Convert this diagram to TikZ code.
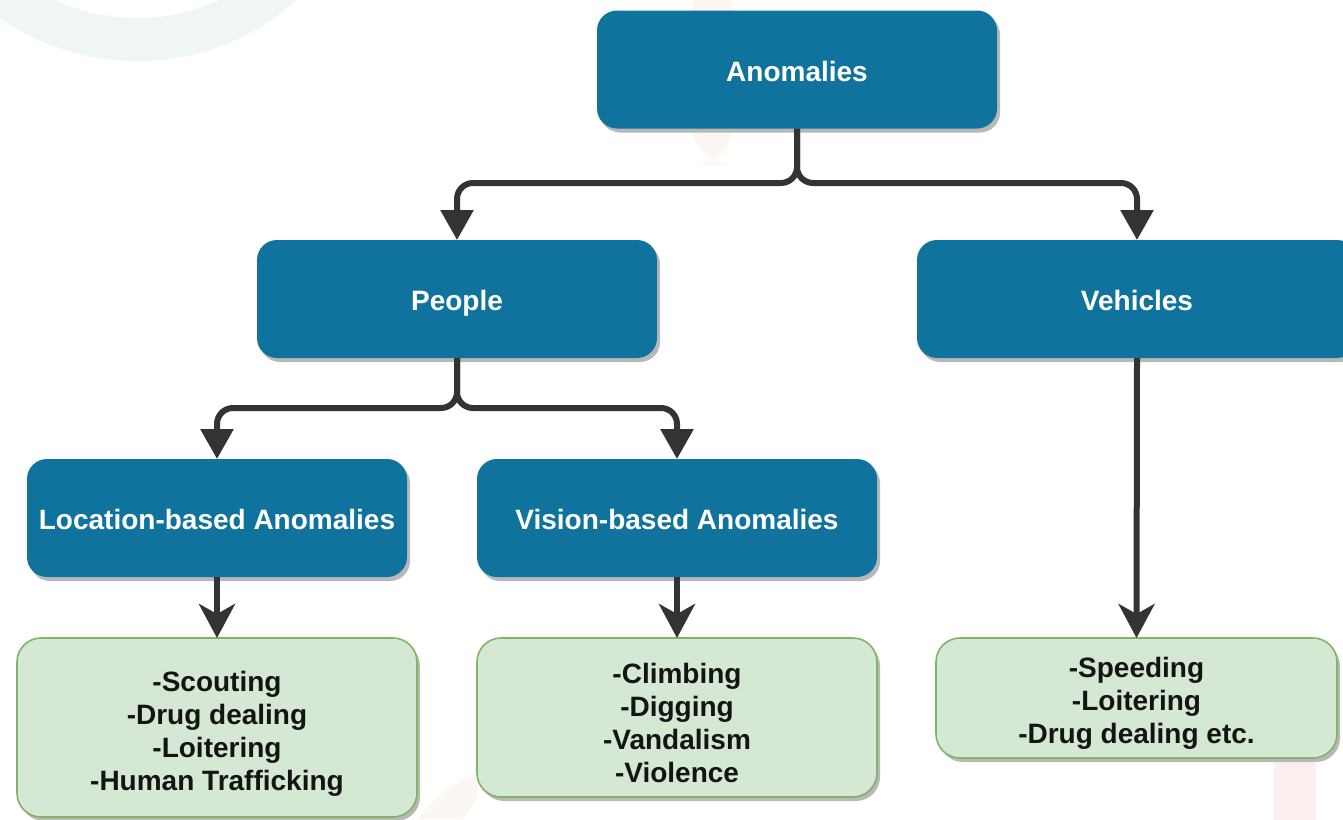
\documentclass[tikz,border=0pt]{standalone}
\usepackage{fontspec}
\setmainfont{Liberation Sans}
\usetikzlibrary{arrows.meta,shadows}

\definecolor{boxblue}{HTML}{10739E}
\definecolor{leafgreen}{HTML}{D5E8D4}
\definecolor{leafedge}{HTML}{82B366}
\definecolor{wire}{HTML}{333333}
\definecolor{markgreen}{HTML}{F0F7F2}
\definecolor{markpeach}{HTML}{FDF7F3}
\definecolor{markpink}{HTML}{FCEFEF}

\tikzset{
  catbox/.style={draw=none, fill=boxblue, rounded corners=10pt, text=white,
    font=\fontsize{14}{16.5}\selectfont\bfseries, align=center,
    inner sep=0pt, outer sep=0pt, minimum height=59pt,
    text height=11.5pt, text depth=0pt,
    drop shadow={shadow xshift=1.5pt, shadow yshift=-2pt, fill=black!28, opacity=1}},
  leafbox/.style={draw=leafedge, line width=0.8pt, fill=leafgreen, rounded corners=12pt,
    text=black!92, font=\fontsize{14}{16.5}\selectfont\bfseries, align=center,
    inner sep=0pt, outer sep=0pt, minimum width=200pt, text depth=0pt,
    drop shadow={shadow xshift=1.5pt, shadow yshift=-2pt, fill=black!28, opacity=1}},
  branch/.style={draw=wire, line width=3pt, rounded corners=8pt,
    -{Triangle[length=15pt,width=16pt]}},
  feed/.style={draw=wire, line width=3pt,
    -{Stealth[length=17pt,width=18pt,inset=5pt]}},
}

\begin{document}
\begin{tikzpicture}[x=0.5pt,y=-0.5pt]
\useasboundingbox (0,0) rectangle (1343,819);
\clip (0,0) rectangle (1343,819);
\fill[white] (0,0) rectangle (1343,819);

% faint background marks
\fill[markgreen, even odd rule] (137,-179) circle[radius=240] (137,-179) circle[radius=197];
\fill[markpeach, rounded corners=20pt] (692,-30) rectangle (733,165);
\fill[markpink, rounded corners=20pt] (1274,700) rectangle (1316,860);
\fill[markpeach] (418,819) to[bend left=12] (477,772) -- (477,800) -- (462,819) -- cycle;

% category boxes
\node[catbox, minimum width=200pt] (anom) at (797,69.5) {Anomalies};
\node[catbox, minimum width=200pt] (people) at (457,299) {People};
\node[catbox, minimum width=220pt] (veh) at (1137,299) {Vehicles};
\node[catbox, minimum width=190pt] (loc) at (217,518) {Location-based Anomalies};
\node[catbox, minimum width=200pt] (vis) at (677,518) {Vision-based Anomalies};

% leaf lists
\node[leafbox, minimum height=89.5pt, text height=62.5pt] (locl) at (217,727.5)
  {-Scouting\\-Drug dealing\\-Loitering\\-Human Trafficking};
\node[leafbox, minimum height=79.5pt, text height=64.5pt] (visl) at (677,717.5)
  {-Climbing\\-Digging\\-Vandalism\\-Violence};
\node[leafbox, minimum height=60pt, minimum width=200.5pt, text height=45pt] (vehl) at (1136.5,698)
  {-Speeding\\-Loitering\\-Drug dealing etc.};

% split levels
\coordinate (split1) at (0,183);
\coordinate (split2) at (0,408);

% connectors
\draw[branch] (anom.south) -- (anom.south |- split1) -| (people.north);
\draw[branch] (anom.south) -- (anom.south |- split1) -| (veh.north);
\draw[branch] (people.south) -- (people.south |- split2) -| (loc.north);
\draw[branch] (people.south) -- (people.south |- split2) -| (vis.north);
\draw[feed] (loc.south) -- (locl.north);
\draw[feed] (vis.south) -- (visl.north);
\draw[feed] (veh.south) -- (vehl.north);
\end{tikzpicture}
\end{document}
